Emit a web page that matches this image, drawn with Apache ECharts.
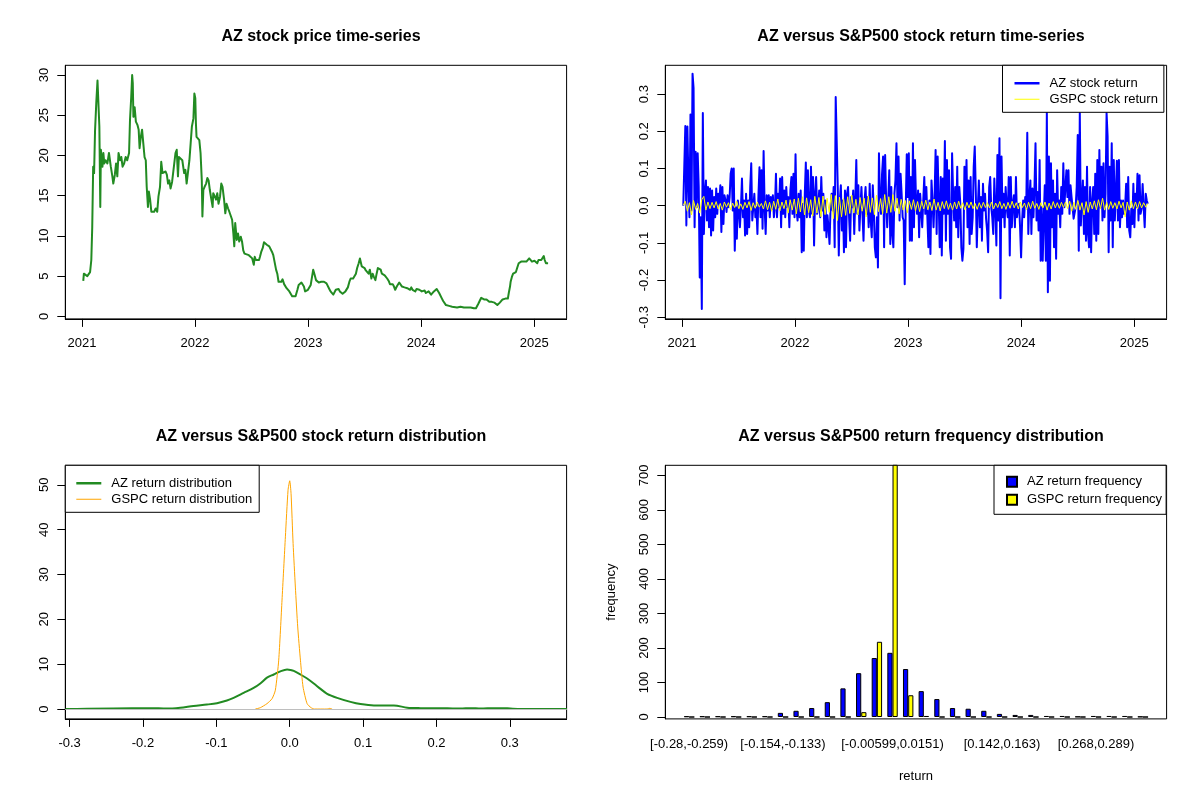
<!DOCTYPE html>
<html>
<head>
<meta charset="utf-8">
<script src="https://cdn.jsdelivr.net/npm/echarts@6/dist/echarts.min.js"></script>
<style>
  html, body { margin: 0; padding: 0; background: #fff; }
  #chart { width: 1200px; height: 800px; }
</style>
</head>
<body>
<div id="chart"></div>
<script>
// price: [days since 2021-01-01, close]
const priceData = [
  [4,4.4],[6,5.3],[17,5.0],[26,5.5],[30,7.0],[33,11.1],[36,18.6],[39,17.8],[42,23.0],[46,26.5],
  [50,29.3],[53,29.4],[56,23.6],[59,13.6],[61,20.7],[66,18.6],[69,20.3],[72,19.0],[76,19.4],[82,19.0],
  [87,20.3],[93,18.6],[98,17.4],[101,16.5],[106,17.6],[110,19.0],[114,17.4],[118,20.3],[123,19.4],[127,19.8],
  [131,18.6],[136,19.0],[141,19.8],[146,19.4],[152,20.3],[155,24.4],[159,27.3],[162,30.0],[164,29.0],[166,24.8],
  [170,26.0],[174,24.2],[179,23.8],[183,23.2],[186,20.9],[190,22.3],[194,23.2],[198,21.5],[202,19.8],[206,19.4],
  [209,16.1],[213,13.6],[216,15.5],[220,14.5],[224,13.0],[228,13.2],[233,13.0],[238,13.4],[243,13.0],[247,14.9],
  [252,16.1],[256,19.2],[260,17.8],[265,17.6],[270,18.0],[274,17.6],[278,16.5],[282,16.9],[286,15.9],[291,16.7],
  [297,16.5],[302,20.3],[306,20.7],[310,17.4],[313,19.8],[319,19.6],[324,19.4],[330,17.8],[334,18.2],[338,16.5],
  [342,17.8],[347,19.4],[351,21.5],[355,23.6],[360,24.6],[363,27.7],[366,27.1],[368,24.0],[370,22.3],[375,22.5],
  [379,21.9],[383,20.3],[387,16.9],[389,12.4],[392,15.7],[396,16.1],[401,16.5],[405,17.2],[409,16.9],[413,15.7],
  [418,14.5],[422,13.6],[424,15.3],[429,14.9],[433,14.5],[437,15.3],[441,14.0],[446,14.9],[450,16.5],[454,16.1],
  [459,14.5],[463,12.8],[467,14.0],[472,13.4],[476,13.0],[480,12.8],[485,12.0],[489,10.3],[492,8.7],[495,11.6],
  [500,9.5],[504,10.3],[508,9.3],[513,9.9],[517,9.3],[521,8.2],[525,7.8],[532,7.7],[539,7.6],[545,7.4],
  [550,7.2],[555,6.4],[558,7.4],[562,7.0],[566,7.2],[572,7.0],[575,7.4],[579,8.0],[584,8.5],[588,9.2],
  [592,9.3],[597,8.9],[601,9.1],[605,8.7],[609,8.5],[614,8.0],[618,7.6],[622,7.4],[627,5.8],[631,5.3],
  [635,4.3],[640,4.1],[644,4.3],[648,4.6],[653,4.0],[657,4.2],[661,3.5],[665,3.3],[670,3.1],[674,2.9],
  [679,2.5],[685,2.7],[690,2.5],[696,3.3],[700,3.9],[704,4.0],[709,4.2],[713,4.1],[717,3.7],[721,3.1],
  [726,3.3],[730,3.3],[734,3.4],[739,3.9],[743,4.1],[747,5.8],[752,5.1],[756,4.5],[760,4.4],[765,4.2],
  [769,4.0],[773,4.3],[777,4.1],[782,4.3],[786,4.4],[790,4.1],[795,4.2],[799,3.4],[803,3.1],[808,2.9],
  [812,2.7],[816,2.9],[820,3.3],[825,3.2],[829,3.4],[833,3.1],[838,2.9],[842,2.8],[846,2.9],[851,3.1],
  [855,3.3],[859,3.6],[864,4.3],[868,4.7],[872,4.5],[876,4.7],[881,4.9],[885,5.3],[889,6.0],[894,6.6],
  [898,7.2],[900,7.4],[904,6.2],[909,6.3],[913,6.0],[917,5.7],[922,5.9],[926,5.3],[930,5.8],[935,4.7],
  [939,5.3],[943,4.9],[948,4.5],[952,5.3],[956,6.0],[961,6.2],[965,5.8],[969,5.3],[973,5.4],[978,5.1],
  [982,4.9],[986,4.7],[991,4.4],[995,4.0],[999,3.9],[1004,4.0],[1008,3.7],[1012,3.3],[1017,3.7],[1021,3.9],
  [1025,4.2],[1029,4.1],[1034,3.7],[1038,3.8],[1042,3.6],[1047,3.4],[1051,3.5],[1055,3.7],[1060,3.3],[1064,3.6],
  [1068,3.3],[1073,3.2],[1077,3.1],[1081,3.4],[1085,3.5],[1090,3.3],[1094,3.1],[1098,3.1],[1103,2.9],[1107,3.2],
  [1111,2.9],[1116,2.8],[1120,3.1],[1124,2.9],[1128,2.7],[1133,2.9],[1137,3.1],[1141,3.3],[1146,3.4],[1150,3.2],
  [1154,2.9],[1159,2.7],[1163,2.2],[1167,1.9],[1172,1.7],[1176,1.4],[1180,1.3],[1186,1.3],[1191,1.2],[1196,1.2],
  [1202,1.2],[1212,1.1],[1223,1.2],[1234,1.1],[1245,1.1],[1256,1.1],[1266,1.0],[1273,1.0],[1277,1.2],[1281,1.6],
  [1286,2.0],[1290,2.3],[1294,2.2],[1299,2.1],[1303,2.0],[1307,2.1],[1312,1.9],[1316,1.8],[1320,1.9],[1324,1.8],
  [1329,1.8],[1333,1.7],[1337,1.7],[1342,1.4],[1346,1.6],[1350,1.7],[1355,1.9],[1359,2.1],[1363,2.0],[1368,2.2],
  [1372,2.1],[1376,2.2],[1379,2.9],[1383,3.7],[1385,4.3],[1389,4.9],[1393,5.3],[1398,5.5],[1402,5.5],[1406,6.0],
  [1411,6.6],[1415,6.8],[1419,6.8],[1424,6.9],[1428,6.8],[1432,7.0],[1436,6.8],[1441,7.0],[1445,7.2],[1449,7.0],
  [1454,6.8],[1458,7.0],[1462,6.9],[1467,7.1],[1471,6.6],[1475,7.0],[1480,6.8],[1484,7.0],[1488,7.2],[1492,7.5],
  [1495,7.0],[1499,6.6],[1503,6.7],[1506,6.6]
];

// returns, sampled evenly between these two days
const retStartDay = 4;
const retEndDay = 1505;
const azReturns = [
  0.000,0.004,0.214,-0.053,0.213,0.068,-0.031,0.245,-0.013,0.355,0.316,-0.058,0.145,-0.004,0.141,0.050,-0.193,-0.031,-0.278,0.249,
  -0.076,0.032,0.068,-0.040,0.050,-0.058,0.046,-0.080,0.041,-0.067,0.023,-0.031,0.046,-0.022,0.032,0.005,0.055,-0.071,0.050,-0.049,
  0.028,0.014,-0.017,0.028,-0.004,0.023,0.086,0.100,-0.013,0.100,-0.121,-0.004,-0.089,0.014,-0.013,-0.058,-0.004,0.073,-0.031,0.014,
  -0.080,0.032,-0.076,0.014,-0.058,0.050,0.114,-0.040,-0.004,0.032,-0.031,-0.004,-0.076,0.028,0.103,-0.031,0.095,-0.062,0.147,-0.004,
  -0.076,0.028,-0.013,0.028,-0.031,0.023,-0.008,0.028,-0.031,-0.004,0.086,-0.031,0.032,-0.004,0.073,-0.058,0.077,-0.022,0.041,-0.031,
  0.050,-0.004,0.023,-0.058,0.041,0.077,-0.022,0.086,-0.031,0.138,-0.013,-0.040,0.032,-0.031,0.041,-0.125,0.005,-0.121,0.032,0.116,
  -0.031,0.095,-0.013,-0.031,0.105,-0.022,0.077,-0.107,0.032,0.077,-0.022,-0.004,0.041,-0.031,0.077,-0.013,0.032,-0.067,0.014,-0.085,
  -0.026,-0.058,-0.103,-0.004,0.032,-0.013,0.050,-0.112,0.292,0.289,0.050,-0.134,0.014,0.055,-0.067,0.014,-0.125,0.041,-0.112,0.032,
  0.050,-0.031,-0.094,0.023,-0.004,0.041,-0.076,0.014,0.123,-0.022,0.055,-0.067,-0.004,0.050,-0.022,-0.094,0.014,0.050,-0.022,0.023,
  -0.058,0.059,-0.040,-0.085,0.055,-0.013,-0.112,-0.139,-0.031,-0.166,0.141,0.014,-0.022,0.086,0.132,-0.112,0.136,0.014,-0.058,0.014,
  0.095,-0.103,0.050,-0.076,-0.112,0.032,0.068,0.168,-0.004,0.132,-0.040,0.086,0.032,-0.031,-0.040,-0.211,-0.004,0.138,0.023,0.141,
  -0.094,0.077,-0.094,0.168,-0.058,0.123,0.014,-0.022,0.041,-0.085,0.032,0.028,-0.058,0.014,0.077,-0.022,0.050,-0.031,-0.112,0.014,
  -0.130,0.068,0.014,-0.058,0.023,0.150,-0.076,0.132,0.014,-0.112,0.077,-0.134,0.073,-0.022,0.174,-0.094,0.123,-0.022,0.095,-0.112,
  -0.143,0.141,0.032,-0.040,0.050,-0.058,0.105,-0.085,0.050,0.005,-0.112,-0.148,-0.116,0.105,-0.004,0.123,-0.058,0.068,-0.103,0.077,
  -0.076,-0.031,0.105,0.159,0.041,-0.112,-0.004,0.068,-0.058,0.023,-0.094,0.059,-0.013,0.032,-0.035,-0.067,-0.125,0.050,0.077,-0.004,
  -0.031,-0.076,0.073,-0.004,-0.107,0.136,-0.040,0.181,-0.249,0.132,-0.031,0.032,-0.058,0.050,-0.004,-0.031,0.077,-0.134,0.077,-0.058,
  0.005,0.028,-0.058,0.077,-0.031,-0.004,0.005,-0.058,-0.139,-0.040,0.014,-0.031,0.023,-0.004,0.196,-0.076,0.014,0.068,-0.076,0.046,
  -0.031,0.050,0.168,-0.040,0.037,-0.067,0.123,-0.148,-0.004,-0.148,-0.031,0.055,-0.148,0.253,-0.233,0.132,-0.202,0.114,-0.058,0.068,
  -0.112,0.032,-0.143,0.095,-0.022,0.014,-0.058,0.050,-0.022,0.114,-0.004,0.050,0.095,0.023,0.095,-0.022,0.055,0.023,-0.004,-0.035,
  -0.031,-0.004,0.050,0.190,-0.121,0.249,-0.053,0.014,0.068,-0.076,0.050,-0.094,0.105,-0.076,-0.112,0.050,-0.125,0.014,0.050,-0.076,
  0.086,-0.094,0.123,-0.076,0.150,-0.004,0.105,-0.040,0.114,-0.031,0.032,0.249,0.186,-0.125,0.105,-0.040,0.168,-0.112,0.123,-0.040,
  0.032,0.121,-0.040,0.123,-0.058,0.014,-0.031,0.014,-0.022,-0.004,0.059,-0.058,0.077,-0.067,-0.085,-0.008,-0.049,0.059,-0.058,0.032,
  -0.004,0.086,-0.040,0.082,-0.022,-0.008,0.058,-0.004,-0.058,0.032,0.014,0.005
];
const spReturns = [
  0.001,0.012,-0.015,0.008,-0.025,0.014,-0.010,0.006,-0.020,0.016,0.025,-0.012,0.010,-0.008,
  0.009,-0.006,0.011,-0.009,0.006,-0.012,0.010,-0.004,0.008,-0.011,0.007,-0.005,0.012,-0.008,0.005,-0.010,
  0.009,-0.006,0.011,-0.013,0.008,-0.007,0.010,-0.004,0.006,-0.009,0.013,-0.011,0.009,-0.015,0.012,-0.010,
  0.018,-0.014,0.010,-0.008,0.015,-0.020,0.016,-0.012,
  0.018,-0.022,0.020,-0.017,0.024,-0.025,0.021,-0.019,0.016,-0.028,0.025,-0.020,0.022,-0.030,0.026,-0.024,
  0.020,-0.018,0.030,-0.035,0.027,-0.040,0.023,-0.030,0.019,-0.026,0.024,-0.021,0.028,-0.020,0.017,-0.025,
  0.022,-0.015,0.020,-0.030,0.026,-0.018,0.021,-0.024,0.028,-0.016,0.019,-0.022,0.030,-0.020,0.024,
  -0.018,0.030,-0.015,0.020,-0.022,0.017,-0.012,0.014,-0.019,0.013,-0.010,0.016,-0.014,0.011,-0.016,0.012,
  -0.009,0.015,-0.011,0.010,-0.013,0.018,-0.012,0.009,-0.014,0.011,-0.008,0.013,-0.010,0.007,-0.012,0.010,
  -0.009,0.012,-0.007,0.008,-0.011,0.009,-0.006,0.010,-0.008,0.006,-0.010,0.008,-0.007,0.009,-0.005,
  0.008,-0.006,0.010,-0.009,0.007,-0.005,0.011,-0.008,0.006,-0.010,0.009,-0.007,0.012,-0.006,0.008,-0.009,
  0.010,-0.005,0.007,-0.011,0.009,-0.008,0.012,-0.007,0.006,-0.010,0.008,-0.006,0.010,-0.012,0.007,-0.009,
  0.011,-0.006,0.008,-0.007,0.009,-0.005,0.010,-0.008,0.012,-0.015,0.009,-0.010,0.014,-0.012,0.008,-0.025,
  0.011,-0.018,0.010,-0.009,0.013,-0.011,0.016,-0.008,0.020,-0.012,0.009,-0.010,0.011,-0.007,0.008,-0.009,
  0.012,-0.006,0.009,-0.030,0.010,-0.012,0.013,-0.008,0.010,-0.009,0.011,-0.006,0.008,-0.004,0.006
];

// kernel density estimates: [return, density]
const azDensity = [
  [-0.3054,0.0],[-0.2153,0.2],[-0.1903,0.2],[-0.1675,0.1],[-0.1493,0.3],[-0.1311,0.7],[-0.1129,1.0],[-0.0992,1.3],
  [-0.0856,1.9],[-0.0765,2.5],[-0.0628,3.6],[-0.0492,4.7],[-0.0401,5.7],[-0.0310,7.0],[-0.0218,7.7],[-0.0127,8.4],
  [-0.0036,8.8],[0.0009,8.7],[0.0055,8.5],[0.0146,7.7],[0.0237,6.8],[0.0328,5.7],[0.0419,4.5],[0.0510,3.4],
  [0.0646,2.5],[0.0828,1.6],[0.0965,1.1],[0.1147,0.8],[0.1420,0.8],[0.1602,0.3],[0.1784,0.2],[0.2148,0.15],
  [0.2330,0.1],[0.2467,0.2],[0.2604,0.1],[0.2786,0.2],[0.2968,0.15],[0.3150,0.0],[0.3778,0.0]
];
const spDensity = [
  [-0.0469,0.0],[-0.0401,0.3],[-0.0310,1.2],[-0.0241,2.3],[-0.0196,4.2],[-0.0150,10.9],[-0.0105,24.3],[-0.0059,38.4],
  [-0.0023,48.8],[0.0000,50.9],[0.0018,48.1],[0.0046,36.9],[0.0077,27.2],[0.0109,18.3],[0.0146,10.9],[0.0182,4.9],
  [0.0237,1.2],[0.0291,0.3],[0.0337,0.0],[0.0510,0.0],[0.0546,0.15],[0.0578,0.0]
];

// histogram bins
const binLabels = [
  '[-0.28,-0.259)','[-0.259,-0.238)','[-0.238,-0.217)','[-0.217,-0.196)','[-0.196,-0.175)',
  '[-0.175,-0.154)','[-0.154,-0.133)','[-0.133,-0.111)','[-0.111,-0.0904)','[-0.0904,-0.0693)',
  '[-0.0693,-0.0482)','[-0.0482,-0.0271)','[-0.0271,-0.00599)','[-0.00599,0.0151)','[0.0151,0.0362)',
  '[0.0362,0.0573)','[0.0573,0.0784)','[0.0784,0.0995)','[0.0995,0.121)','[0.121,0.142)',
  '[0.142,0.163)','[0.163,0.184)','[0.184,0.205)','[0.205,0.226)','[0.226,0.247)',
  '[0.247,0.268)','[0.268,0.289)','[0.289,0.311)','[0.311,0.332)','[0.332,0.353]'
];
const azFreq = [2,2,2,2,2,2,12,18,26,43,83,127,171,186,139,75,52,26,24,18,9,6,6,3,3,1,3,3,3,1];
const spFreq = [0,0,0,0,0,0,0,0,0,0,0,14,218,742,63,3,0,0,0,0,0,0,0,0,0,0,0,0,0,0];
const shownBins = [0, 6, 13, 20, 26];

const yearTicks = [2021, 2022, 2023, 2024, 2025];
const priceTicks = [0, 5, 10, 15, 20, 25, 30];
const returnTicks = [-0.3, -0.2, -0.1, 0, 0.1, 0.2, 0.3];
const densityTicks = [0, 10, 20, 30, 40, 50];
const freqTicks = [0, 100, 200, 300, 400, 500, 600, 700];

const FONT = '"Liberation Sans", Arial, sans-serif';
const chart = echarts.init(document.getElementById('chart'));

function toYear(day) {
    return 2021 + day / 365.25;
}
function spreadDays(vals) {
    const step = (retEndDay - retStartDay) / (vals.length - 1);
    return vals.map(function (v, i) { return [toYear(retStartDay + i * step), v]; });
}

// legend line samples: two dots fix the 25x14 box, the bar in the middle is the line
function lineIcon(w) {
    const a = 7 - w / 2, b = 7 + w / 2;
    return 'path://M0,0L0.01,0L0,0.01Z M0,' + a + 'L25,' + a + 'L25,' + b + 'L0,' + b + 'Z M25,14L24.99,14L25,13.99Z';
}

function axis(gridIndex, min, max, ticks, fmt, isY) {
    return {
        type: 'value',
        gridIndex: gridIndex,
        min: min,
        max: max,
        splitLine: { show: false },
        axisLine: { show: true, onZero: false, lineStyle: { color: '#000', width: 1 } },
        axisTick: { show: true, length: 8, customValues: ticks, lineStyle: { color: '#000' } },
        axisLabel: {
            customValues: ticks,
            formatter: fmt,
            rotate: isY ? 90 : 0,
            margin: isY ? 14 : 18,
            color: '#000',
            fontFamily: FONT,
            fontSize: 13
        }
    };
}
const intFmt = function (v) { return String(Math.round(v)); };
const oneDec = function (v) { return v.toFixed(1); };

const frameGrid = { show: true, borderColor: '#000', borderWidth: 1, backgroundColor: 'transparent', outerBoundsMode: 'none' };
function grid(left, top, width) {
    return Object.assign({ left: left, top: top, width: width, height: 253.6 }, frameGrid);
}

const legendCommon = {
    orient: 'vertical',
    borderColor: '#000',
    borderWidth: 1,
    borderRadius: 0,
    backgroundColor: '#fff',
    itemWidth: 25,
    itemHeight: 14,
    itemGap: 2,
    selectedMode: false,
    textStyle: { color: '#000', fontFamily: FONT, fontSize: 13, padding: [0, 0, 0, 5] }
};

const titleStyle = { color: '#000', fontFamily: FONT, fontSize: 16, fontWeight: 'bold' };

const option = {
    animation: false,
    backgroundColor: '#fff',
    title: [
        { text: 'AZ stock price time-series', left: 316, top: 24, textAlign: 'center', textStyle: titleStyle },
        { text: 'AZ versus S&P500 stock return time-series', left: 916, top: 24, textAlign: 'center', textStyle: titleStyle },
        { text: 'AZ versus S&P500 stock return distribution', left: 316, top: 424, textAlign: 'center', textStyle: titleStyle },
        { text: 'AZ versus S&P500 return frequency distribution', left: 916, top: 424, textAlign: 'center', textStyle: titleStyle }
    ],
    legend: [
        Object.assign({}, legendCommon, {
            data: [
                { name: 'AZ stock return', icon: lineIcon(2.5) },
                { name: 'GSPC stock return', icon: lineIcon(1) }
            ],
            left: 1002.5, top: 65.3, padding: [11, 6, 6, 12]
        }),
        Object.assign({}, legendCommon, {
            data: [
                { name: 'AZ return distribution', icon: lineIcon(2.5) },
                { name: 'GSPC return distribution', icon: lineIcon(1) }
            ],
            left: 65.3, top: 465.3, padding: [11, 7, 6, 11]
        }),
        Object.assign({}, legendCommon, {
            data: ['AZ return frequency', 'GSPC return frequency'],
            left: 994, top: 465.3, padding: [10, 4, 8, 12],
            icon: 'rect', itemWidth: 10, itemHeight: 10, itemGap: 5
        })
    ],
    grid: [
        grid(65.3, 65.3, 501.3),
        grid(665.3, 65.3, 501.3),
        grid(65.3, 465.3, 501.3),
        grid(665.3, 465.3, 501.3),
        { left: 681.3, top: 465.3, width: 469.4, height: 253.6, show: false, outerBoundsMode: 'none' }
    ],
    xAxis: [
        axis(0, 2020.852, 2025.287, yearTicks, intFmt, false),
        axis(1, 2020.852, 2025.287, yearTicks, intFmt, false),
        axis(2, -0.3059, 0.3774, returnTicks, oneDec, false),
        { type: 'value', gridIndex: 3, min: 0, max: 1, show: false },
        {
            type: 'category', gridIndex: 4, data: binLabels,
            axisLine: { show: false }, axisTick: { show: false },
            axisLabel: {
                interval: function (idx) { return shownBins.indexOf(idx) >= 0; },
                color: '#000', fontFamily: FONT, fontSize: 13, margin: 19
            },
            name: 'return', nameLocation: 'middle', nameGap: 51,
            nameTextStyle: { color: '#000', fontFamily: FONT, fontSize: 13 }
        }
    ],
    yAxis: [
        axis(0, -0.32, 31.2, priceTicks, intFmt, true),
        axis(1, -0.3045, 0.3775, returnTicks, oneDec, true),
        axis(2, -2.2, 54.35, densityTicks, intFmt, true),
        Object.assign(axis(3, -5.5, 729.5, freqTicks, intFmt, true), {
            name: 'frequency', nameLocation: 'middle', nameGap: 47, nameRotate: 90,
            nameTextStyle: { color: '#000', fontFamily: FONT, fontSize: 13 }
        }),
        { type: 'value', gridIndex: 4, min: -5.5, max: 729.5, show: false }
    ],
    series: [
        {
            name: 'AZ price', type: 'line', xAxisIndex: 0, yAxisIndex: 0,
            data: priceData.map(function (p) { return [toYear(p[0]), p[1]]; }),
            symbol: 'none', lineStyle: { color: '#228B22', width: 2, join: 'round' }
        },
        {
            name: 'AZ stock return', type: 'line', xAxisIndex: 1, yAxisIndex: 1,
            data: spreadDays(azReturns), symbol: 'none',
            itemStyle: { color: '#0000FF' },
            lineStyle: { color: '#0000FF', width: 2, join: 'round' }
        },
        {
            name: 'GSPC stock return', type: 'line', xAxisIndex: 1, yAxisIndex: 1,
            data: spreadDays(spReturns), symbol: 'none',
            itemStyle: { color: '#FFFF00' },
            lineStyle: { color: '#FFFF00', width: 1 }
        },
        {
            name: 'AZ return distribution', type: 'line', xAxisIndex: 2, yAxisIndex: 2,
            data: azDensity, symbol: 'none', smooth: 0.3,
            itemStyle: { color: '#228B22' },
            lineStyle: { color: '#228B22', width: 2 },
            markLine: {
                silent: true, symbol: 'none', label: { show: false },
                lineStyle: { color: '#BEBEBE', type: 'solid', width: 1 },
                data: [{ yAxis: 0 }]
            }
        },
        {
            name: 'GSPC return distribution', type: 'line', xAxisIndex: 2, yAxisIndex: 2,
            data: spDensity, symbol: 'none', smooth: 0.2,
            itemStyle: { color: '#FFA500' },
            lineStyle: { color: '#FFA500', width: 1 }
        },
        {
            name: 'AZ return frequency', type: 'bar', xAxisIndex: 4, yAxisIndex: 4,
            data: azFreq, barWidth: 5.2, barGap: '0%',
            itemStyle: { color: '#0000FF', borderColor: '#000', borderWidth: 1 }
        },
        {
            name: 'GSPC return frequency', type: 'bar', xAxisIndex: 4, yAxisIndex: 4,
            data: spFreq, barWidth: 5.2, barGap: '0%',
            itemStyle: { color: '#FFFF00', borderColor: '#000', borderWidth: 1 }
        }
    ]
};

chart.setOption(option);
</script>
</body>
</html>
